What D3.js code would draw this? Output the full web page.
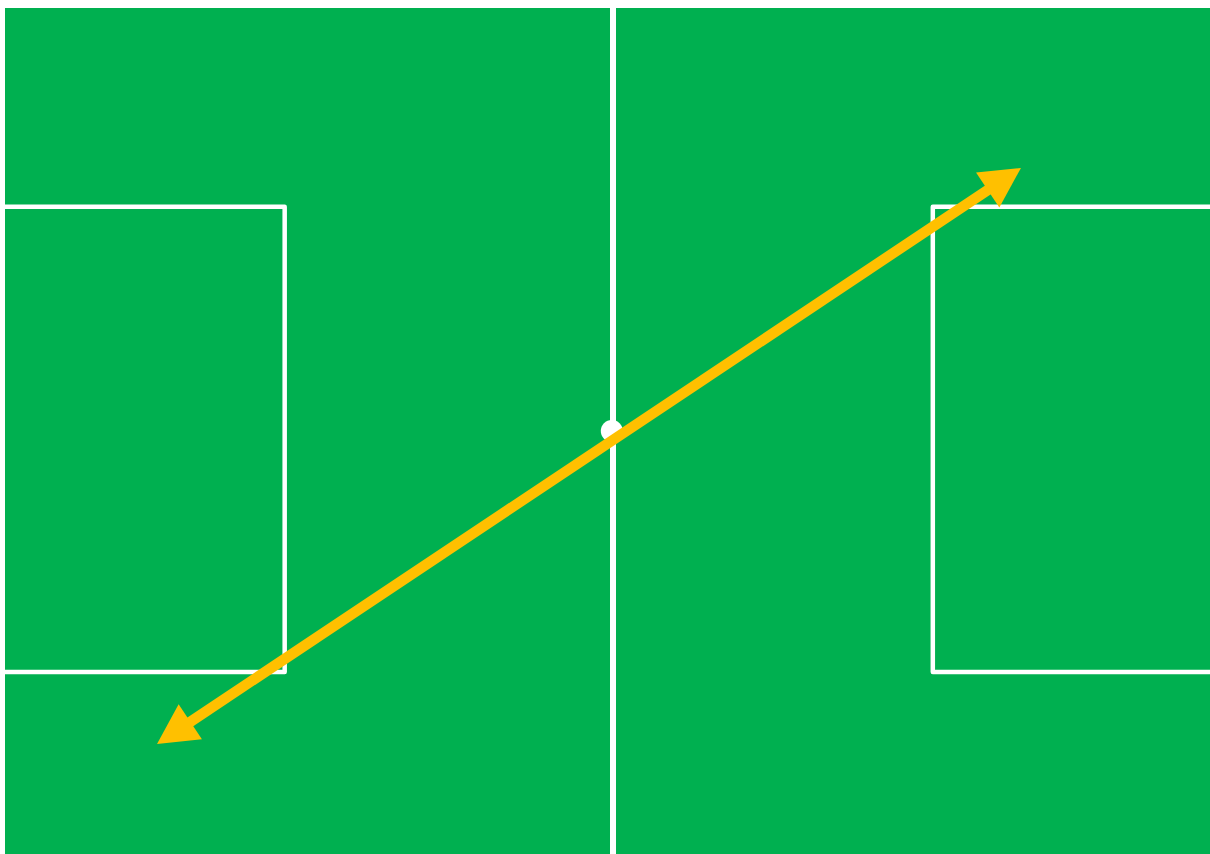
<!DOCTYPE html>
<html>
<head>
<meta charset="utf-8">
<script src="https://cdn.jsdelivr.net/npm/d3@7"></script>
<style>
  html, body { margin: 0; padding: 0; background: #fff; overflow: hidden; }
  svg { display: block; }
</style>
</head>
<body>
<svg></svg>
<script>
// pitch coordinates, 0..100 both ways
var halfwayX = [50];
var leftBox = [[0, 23.5], [23, 23.5], [23, 78.5], [0, 78.5]];
var rightBox = [[100, 23.5], [76.3, 23.5], [76.3, 78.5], [100, 78.5]];
var centreSpot = [[49.9, 50]];
var arrowEnds = [[12.5, 87.0], [83.55, 18.9]];

var width = 1210, height = 854;

var svg = d3.select("svg")
    .attr("width", width)
    .attr("height", height);

var x = d3.scaleLinear().domain([0, 100]).range([5, 1221]);
var y = d3.scaleLinear().domain([0, 100]).range([8, 854]);

// grass
svg.append("rect")
    .attr("x", x(0))
    .attr("y", y(0))
    .attr("width", x(100) - x(0))
    .attr("height", y(100) - y(0))
    .attr("fill", "#00B050");

var line = d3.line().x(d => x(d[0])).y(d => y(d[1]));

svg.selectAll("line.halfway")
    .data(halfwayX)
    .join("line")
    .attr("class", "halfway")
    .attr("x1", d => x(d))
    .attr("x2", d => x(d))
    .attr("y1", y(0))
    .attr("y2", y(100))
    .attr("stroke", "#fff")
    .attr("stroke-width", 6);

svg.selectAll("path.box")
    .data([leftBox, rightBox])
    .join("path")
    .attr("class", "box")
    .attr("d", line)
    .attr("fill", "none")
    .attr("stroke", "#fff")
    .attr("stroke-width", 4.5)
    .attr("stroke-linejoin", "round")
    .attr("stroke-linecap", "round");

svg.selectAll("circle.spot")
    .data(centreSpot)
    .join("circle")
    .attr("class", "spot")
    .attr("cx", d => x(d[0]))
    .attr("cy", d => y(d[1]))
    .attr("r", 11)
    .attr("fill", "#fff");

// double headed arrow
var p0 = [x(arrowEnds[0][0]), y(arrowEnds[0][1])];
var p1 = [x(arrowEnds[1][0]), y(arrowEnds[1][1])];
var dx = p1[0] - p0[0], dy = p1[1] - p0[1];
var len = Math.sqrt(dx * dx + dy * dy);
var ux = dx / len, uy = dy / len;
var headLen = 40, headHalf = 21;

svg.append("line")
    .attr("x1", p0[0] + ux * (headLen - 4))
    .attr("y1", p0[1] + uy * (headLen - 4))
    .attr("x2", p1[0] - ux * (headLen - 4))
    .attr("y2", p1[1] - uy * (headLen - 4))
    .attr("stroke", "#FFC000")
    .attr("stroke-width", 10.5);

function head(tip, dirx, diry) {
    var bx = tip[0] + dirx * headLen, by = tip[1] + diry * headLen;
    var px = -diry, py = dirx;
    return "M" + tip[0] + "," + tip[1] +
        "L" + (bx + px * headHalf) + "," + (by + py * headHalf) +
        "L" + (bx - px * headHalf) + "," + (by - py * headHalf) + "Z";
}

svg.selectAll("path.head")
    .data([[p0, ux, uy], [p1, -ux, -uy]])
    .join("path")
    .attr("class", "head")
    .attr("d", d => head(d[0], d[1], d[2]))
    .attr("fill", "#FFC000");
</script>
</body>
</html>
